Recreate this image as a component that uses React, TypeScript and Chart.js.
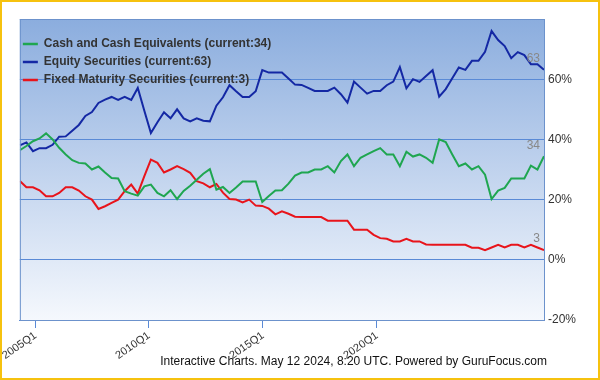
import React, { useEffect, useRef } from "react";
import { Chart, registerables } from "chart.js";

Chart.register(...registerables);

// ---- data (quarterly, 2004Q1 .. 2024Q1, 81 points) ----
const seriesNames = [
  "Cash and Cash Equivalents",
  "Equity Securities",
  "Fixed Maturity Securities",
];
const seriesColors = ["#1fa650", "#1428a4", "#e8141b"];

const cash = [
  36.4, 37.8, 39.4, 40.3, 42, 40, 37.2, 35, 33.1, 32.2, 32, 30, 31, 29, 27.2, 27, 22.8, 22, 21.3, 24.4,
  25, 22.2, 21.1, 23.1, 20.2, 22.9, 24.6, 26.6, 28.6, 30.1, 23.3, 24.2, 22.2, 24, 26, 26, 26, 19.2, 21.2, 23,
  23.1, 25.3, 28, 29, 29, 30, 30, 31.1, 29, 32.8, 35, 31.1, 33.9, 35, 36.1, 37.1, 35, 35, 31.1, 35.9,
  34.3, 35, 33.9, 32.2, 40, 39.1, 35, 31.1, 32, 30, 31.1, 28.3, 20.2, 23, 23.9, 27, 27, 27, 31.3, 30,
  34.4,
];
const equity = [
  38, 39, 36.1, 37.1, 37.1, 38.2, 40.9, 41, 42.9, 44.8, 47.8, 49.1, 52.1, 53.2, 54.1, 53.1, 54.1, 53.1, 57.1, 49.5,
  42.1, 45.7, 49, 47, 50, 47, 46, 47, 46.2, 46, 51.2, 54, 58, 56, 54.1, 54.1, 56, 63, 62.2, 62.2,
  62.2, 60.2, 58.2, 58.1, 57.1, 56.1, 56.1, 56.1, 57.2, 55, 52.2, 59.2, 57.2, 55.2, 56.1, 56.1, 58, 59.2, 64, 57,
  60, 59.1, 61.1, 63, 54.2, 56.7, 60.3, 63.9, 63.1, 66.1, 66.1, 69.1, 76, 73, 71, 67, 69, 68, 65, 65,
  63.1,
];
const fixedMaturity = [
  26.2, 24.1, 24.1, 23.1, 21.1, 21.1, 22.2, 24.1, 24.1, 23, 21.1, 20, 16.9, 17.8, 18.9, 20, 22.8, 25, 22, 27.8,
  33.3, 32.2, 29, 30, 31.1, 30.1, 28.9, 26.1, 25.4, 24.1, 25.2, 22.3, 20.2, 20, 19.1, 20, 18, 17.9, 17, 15.1,
  16.1, 15.3, 14.3, 14.2, 14.2, 14.2, 14.2, 13, 13, 13, 13, 10, 10, 10, 8.3, 7.2, 7, 6.1, 6.1, 7,
  6.1, 6.1, 5.1, 5, 5, 5, 5, 5, 5, 4, 4, 3.2, 4.1, 5, 4.1, 5, 5, 4.1, 5, 4.1,
  3.2,
];
const currentValues = [34, 63, 3];

const xTickLabels = ["2005Q1", "2010Q1", "2015Q1", "2020Q1"];
const xTickPositions = [2.4, 19.7, 37.1, 54.5];
const yTickValues = [-20, 0, 20, 40, 60, 80];
const footerText = "Interactive Charts. May 12 2024, 8:20 UTC. Powered by GuruFocus.com";

const FONT = "'Liberation Sans', Arial, sans-serif";
const GRID = "#5a8ad6";

const bgPlugin = {
  id: "bgPlugin",
  beforeDraw(chart: any) {
    const { ctx, chartArea: a } = chart;
    const g = ctx.createLinearGradient(0, a.top, 0, a.bottom);
    g.addColorStop(0, "#8badde");
    g.addColorStop(1, "#f5f8fd");
    ctx.save();
    ctx.fillStyle = g;
    ctx.fillRect(a.left, a.top, a.right - a.left, a.bottom - a.top);
    ctx.restore();
  },
  afterDraw(chart: any) {
    const { ctx, chartArea: a } = chart;
    ctx.save();
    ctx.strokeStyle = "#6c92cc";
    ctx.lineWidth = 1;
    ctx.strokeRect(a.left + 0.5, a.top + 0.5, a.right - a.left, a.bottom - a.top);
    ctx.restore();
  },
};

const overlayPlugin = {
  id: "overlayPlugin",
  afterDatasetsDraw(chart: any) {
    const { ctx, chartArea: a } = chart;
    ctx.save();
    // end-value labels
    ctx.font = `12px ${FONT}`;
    ctx.fillStyle = "#888888";
    ctx.textAlign = "right";
    ctx.textBaseline = "middle";
    chart.data.datasets.forEach((ds: any, i: number) => {
      const meta = chart.getDatasetMeta(i);
      const last = meta.data[meta.data.length - 1];
      if (!last) return;
      ctx.fillText(String(currentValues[i]), last.x - 4, last.y - 11);
    });
    // legend
    ctx.font = `bold 12px ${FONT}`;
    ctx.textAlign = "left";
    chart.data.datasets.forEach((ds: any, i: number) => {
      const y = a.top + 25 + i * 18;
      ctx.strokeStyle = ds.borderColor;
      ctx.lineWidth = 2.5;
      ctx.beginPath();
      ctx.moveTo(a.left + 3, y);
      ctx.lineTo(a.left + 18, y);
      ctx.stroke();
      ctx.fillStyle = "#333333";
      ctx.fillText(`${seriesNames[i]} (current:${currentValues[i]})`, a.left + 24, y);
    });
    ctx.restore();
  },
  afterDraw(chart: any) {
    const { ctx, chartArea: a } = chart;
    ctx.save();
    ctx.font = `12px ${FONT}`;
    ctx.fillStyle = "#111111";
    ctx.textAlign = "right";
    ctx.textBaseline = "middle";
    ctx.fillText(footerText, a.right + 3, chart.height - 16);
    ctx.restore();
  },
};

export default function App() {
  const ref = useRef<HTMLCanvasElement>(null);

  useEffect(() => {
    if (!ref.current) return;
    const seriesData = [cash, equity, fixedMaturity];
    const chart = new Chart(ref.current, {
      type: "line",
      data: {
        datasets: seriesData.map((arr, i) => ({
          label: seriesNames[i],
          data: arr.map((v, k) => ({ x: k, y: v })),
          borderColor: seriesColors[i],
          backgroundColor: seriesColors[i],
          borderWidth: 2,
          pointRadius: 0,
          tension: 0,
          fill: false,
        })),
      },
      options: {
        animation: false,
        responsive: false,
        maintainAspectRatio: false,
        layout: { padding: { left: 17, top: 17, right: 0, bottom: 0 } },
        plugins: {
          legend: { display: false },
          tooltip: { enabled: false },
        },
        scales: {
          x: {
            type: "linear",
            min: 0,
            max: cash.length - 1,
            afterBuildTicks: (axis: any) => {
              axis.ticks = xTickPositions.map((v) => ({ value: v }));
            },
            afterFit: (axis: any) => {
              axis.height = 58;
            },
            grid: {
              drawOnChartArea: false,
              drawTicks: true,
              tickLength: 8,
              color: GRID,
            },
            border: { display: true, color: GRID },
            ticks: {
              autoSkip: false,
              minRotation: 35,
              maxRotation: 35,
              padding: 1,
              color: "#333333",
              font: { family: FONT, size: 11 },
              callback: (_v: any, idx: number) => xTickLabels[idx],
            },
          },
          y: {
            type: "linear",
            position: "right",
            min: -20,
            max: 80,
            afterBuildTicks: (axis: any) => {
              axis.ticks = yTickValues.map((v) => ({ value: v }));
            },
            afterFit: (axis: any) => {
              axis.width = 54;
            },
            grid: {
              drawTicks: false,
              color: GRID,
            },
            border: { display: false },
            ticks: {
              padding: 4,
              color: "#333333",
              font: { family: FONT, size: 12 },
              callback: (v: any) => (v === 80 ? "" : `${v}%`),
            },
          },
        },
      },
      plugins: [bgPlugin, overlayPlugin],
    } as any);
    return () => chart.destroy();
  }, []);

  return (
    <div
      style={{
        position: "fixed",
        left: 0,
        top: 0,
        width: 600,
        height: 380,
        boxSizing: "border-box",
        border: "2px solid #f6c20f",
        background: "#ffffff",
      }}
    >
      <canvas ref={ref} width={596} height={376} style={{ display: "block" }} />
    </div>
  );
}
